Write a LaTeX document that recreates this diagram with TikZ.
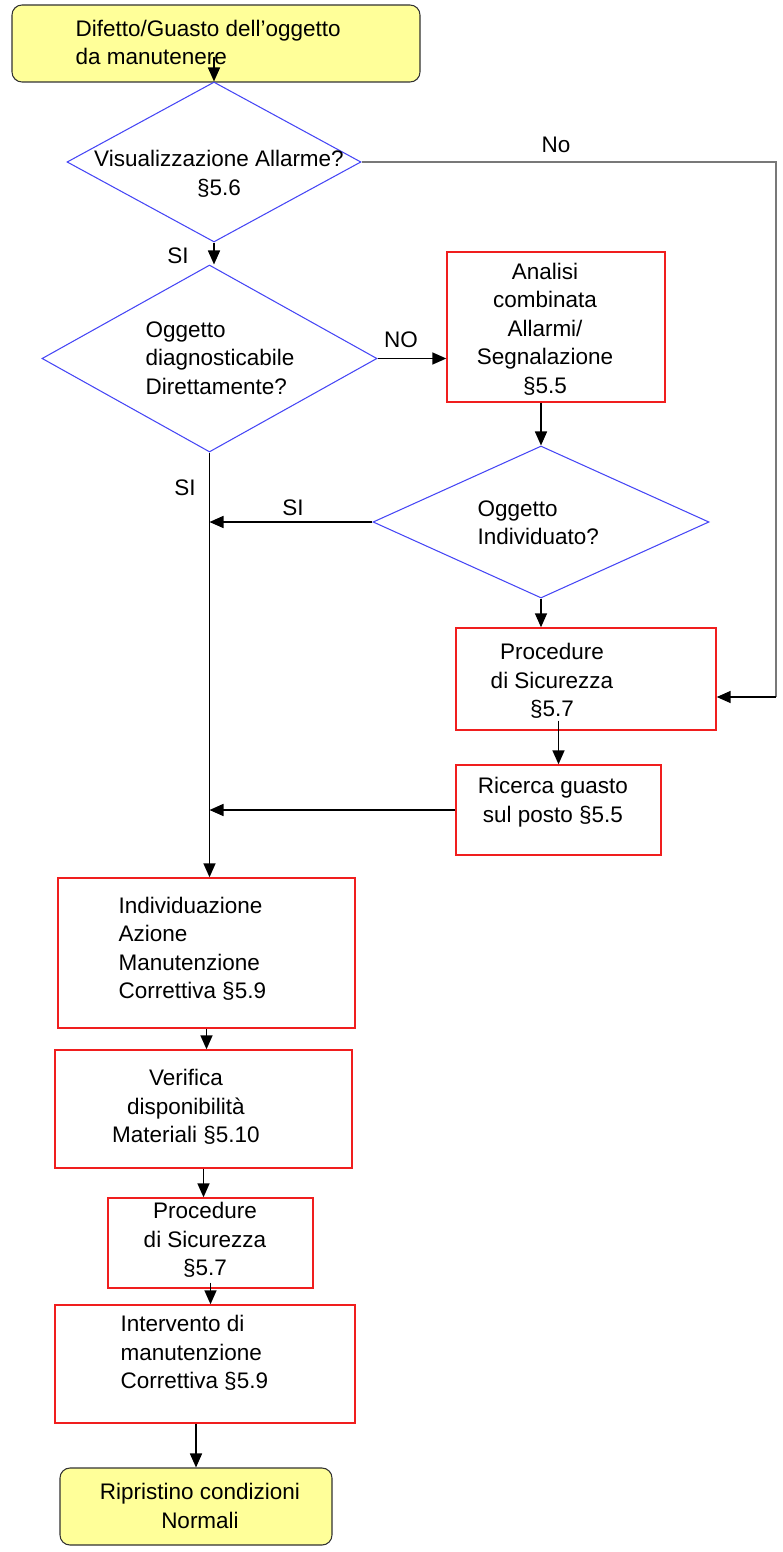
\documentclass[tikz,border=0pt]{standalone}
\usepackage{fontspec}
\setmainfont{Liberation Sans}
\usetikzlibrary{shapes.geometric,arrows.meta}

\definecolor{termfill}{RGB}{255,255,153}
\definecolor{termline}{RGB}{50,50,50}
\definecolor{diablue}{RGB}{70,70,245}
\definecolor{boxred}{RGB}{240,30,30}
\definecolor{nogray}{RGB}{120,120,120}

\begin{document}
\begin{tikzpicture}[font=\fontsize{12.8}{16.2}\selectfont, line width=0.6pt,
  termbox/.style={draw=termline, fill=termfill, rounded corners=0.2cm, inner sep=0pt},
  decision/.style={draw=diablue, diamond, inner sep=0pt},
  actbox/.style={draw=boxred, line width=0.8pt, inner sep=0pt},
  txt/.style={inner sep=0pt},
  lbl/.style={inner sep=0pt},
  arr/.style={-{Triangle[width=0.24cm,length=0.28cm]}, line width=0.9pt},
  noline/.style={draw=nogray, line width=1.1pt}]

% ---------- page: 782x1552 px, 1 px = 0.02 cm ----------
\useasboundingbox (0,0) rectangle (15.64,-31.04);

% ---------- shapes ----------
\node[termbox, minimum width=8.16cm, minimum height=1.54cm] (start) at (4.32,-0.87) {};
\node[decision, minimum width=5.88cm, minimum height=3.2cm] (d1) at (4.28,-3.24) {};
\node[decision, minimum width=6.7cm, minimum height=3.74cm] (d2) at (4.19,-7.17) {};
\node[actbox, minimum width=4.36cm, minimum height=3.0cm] (anal) at (11.12,-6.54) {};
\node[decision, minimum width=6.72cm, minimum height=3.04cm] (d3) at (10.82,-10.44) {};
\node[actbox, minimum width=5.2cm, minimum height=2.04cm] (proc1) at (11.72,-13.58) {};
\node[actbox, minimum width=4.1cm, minimum height=1.8cm] (search) at (11.17,-16.2) {};
\node[actbox, minimum width=5.94cm, minimum height=3.0cm] (ident) at (4.13,-19.06) {};
\node[actbox, minimum width=5.94cm, minimum height=2.36cm] (check) at (4.07,-22.18) {};
\node[actbox, minimum width=4.1cm, minimum height=1.8cm] (proc2) at (4.21,-24.86) {};
\node[actbox, minimum width=6.0cm, minimum height=2.36cm] (repair) at (4.1,-27.28) {};
\node[termbox, minimum width=5.44cm, minimum height=1.54cm] (stop) at (3.92,-30.13) {};

% ---------- shape text ----------
\node[txt, anchor=west, align=left] (tstart) at (1.5,-0.85) {Difetto/Guasto dell’oggetto\\da manutenere};
\node[txt, align=center] (td1) at (4.38,-3.48) {Visualizzazione Allarme?\\§5.6};
\node[txt, anchor=west, align=left] (td2) at (2.9,-7.16) {Oggetto\\diagnosticabile\\Direttamente?};
\node[txt, align=center] (tanal) at (10.9,-6.58) {Analisi\\combinata\\Allarmi/\\Segnalazione\\§5.5};
\node[txt, anchor=west, align=left] (td3) at (9.54,-10.46) {Oggetto\\Individuato?};
\node[txt, align=center] (tproc1) at (11.04,-13.62) {Procedure\\di Sicurezza\\§5.7};
\node[txt, align=center] (tsearch) at (11.06,-16.04) {Ricerca guasto\\sul posto §5.5};
\node[txt, anchor=west, align=left] (tident) at (2.36,-18.98) {Individuazione\\Azione\\Manutenzione\\Correttiva §5.9};
\node[txt, align=center] (tcheck) at (3.72,-22.14) {Verifica\\disponibilità\\Materiali §5.10};
\node[txt, align=center] (tproc2) at (4.1,-24.8) {Procedure\\di Sicurezza\\§5.7};
\node[txt, anchor=west, align=left] (trepair) at (2.4,-27.06) {Intervento di\\manutenzione\\Correttiva §5.9};
\node[txt, align=center] (tstop) at (4.0,-30.12) {Ripristino condizioni\\Normali};

% ---------- branch labels ----------
\node[lbl] (lno) at (11.12,-2.9) {No};
\node[lbl] (lsi1) at (3.56,-5.12) {SI};
\node[lbl] (lNO) at (8.02,-6.8) {NO};
\node[lbl] (lsi2) at (3.7,-9.76) {SI};
\node[lbl] (lsi3) at (5.86,-10.16) {SI};

% ---------- connectors ----------
\coordinate (nobend) at (15.52,-3.24);
\coordinate (noend) at (15.52,-13.94);
\draw[noline] (d1.east) -- (nobend) -- (noend);
\draw[arr] (noend) -- (noend -| proc1.east);

\draw[arr] ([yshift=0.48cm]d1.north) -- (d1.north);
\draw[arr] (d1.south) -- (d1.south |- d2.north);
\draw[arr] (d2.east) -- (d2.east -| anal.west);
\draw[arr] (d3.north |- anal.south) -- (d3.north);
\draw[arr] (d3.west) -- (d3.west -| d2.south);
\draw[arr] (d3.south) -- (d3.south |- proc1.north);
\draw[arr] ([yshift=0.2cm]search.north |- proc1.south) -- (search.north);
\draw[arr] (search.west) -- (search.west -| d2.south);
\draw[arr] (d2.south) -- (d2.south |- ident.north);
\draw[arr] (ident.south) -- (ident.south |- check.north);
\draw[arr] (check.south) -- (check.south |- proc2.north);
\draw[arr] ([yshift=0.12cm]proc2.south) -- (proc2.south |- repair.north);
\draw[arr] (stop.north |- repair.south) -- (stop.north);

\end{tikzpicture}
\end{document}
